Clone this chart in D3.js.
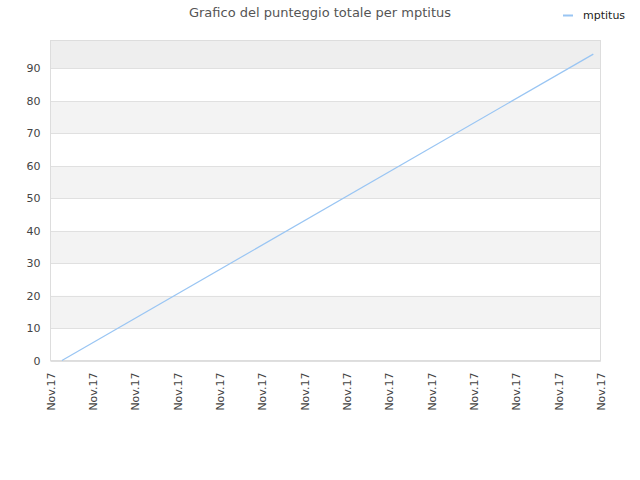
<!DOCTYPE html>
<html>
<head>
<meta charset="utf-8">
<script src="https://cdn.jsdelivr.net/npm/d3@7"></script>
<style>
  body { margin: 0; background: #fff; }
  text { font-family: "DejaVu Sans", sans-serif; }
</style>
</head>
<body>
<svg width="640" height="480"></svg>
<script>
// tick labels along the time axis (all the same day)
const tickLabels = ["Nov.17", "Nov.17", "Nov.17", "Nov.17", "Nov.17", "Nov.17", "Nov.17",
                    "Nov.17", "Nov.17", "Nov.17", "Nov.17", "Nov.17", "Nov.17", "Nov.17"];
// position of each point in tick units, and the score there
const times = [0.27, 12.83];
const scores = [0, 94.4];
const yTicks = [0, 10, 20, 30, 40, 50, 60, 70, 80, 90];
const seriesName = "mptitus";

let svg = d3.select("svg"),
  width = +svg.attr("width"),
  height = +svg.attr("height");

let plotLeft = 50.5, plotRight = 600.5, plotTop = 40.5, plotBottom = 360.5;

let x = d3.scaleLinear().domain([0, tickLabels.length - 1]).range([plotLeft, plotRight]);
let y = d3.scaleLinear().domain([0, 98.6]).range([plotBottom, plotTop]);

// title
svg.append("text")
  .attr("x", 320).attr("y", 17)
  .attr("text-anchor", "middle")
  .attr("font-size", 13)
  .attr("fill", "#555")
  .text("Grafico del punteggio totale per " + seriesName);

// alternating bands
let bandEdges = yTicks.concat([y.domain()[1]]);
let bands = svg.append("g");
for (let i = 0; i < bandEdges.length - 1; i++) {
  let fill = (i % 2 === 1) ? "#f3f3f3" : "#ffffff";
  if (i === bandEdges.length - 2) fill = "#eeeeee";
  bands.append("rect")
    .attr("x", plotLeft)
    .attr("y", y(bandEdges[i + 1]))
    .attr("width", plotRight - plotLeft)
    .attr("height", y(bandEdges[i]) - y(bandEdges[i + 1]))
    .attr("fill", fill);
}

// horizontal grid
svg.append("g")
  .selectAll("line")
  .data(yTicks)
  .enter().append("line")
  .attr("x1", plotLeft).attr("x2", plotRight)
  .attr("y1", d => Math.round(y(d)) + 0.5)
  .attr("y2", d => Math.round(y(d)) + 0.5)
  .attr("stroke", "#e0e0e0");

// frame
svg.append("rect")
  .attr("x", plotLeft).attr("y", plotTop)
  .attr("width", plotRight - plotLeft).attr("height", plotBottom - plotTop)
  .attr("fill", "none")
  .attr("stroke", "#dddddd");

// y axis
let yAxis = svg.append("g")
  .attr("transform", "translate(" + plotLeft + ",0)")
  .call(d3.axisLeft(y).tickValues(yTicks).tickSize(0).tickPadding(10));
yAxis.select(".domain").remove();
yAxis.selectAll("text").attr("font-size", 11).attr("fill", "#444")
  .attr("font-family", "DejaVu Sans, sans-serif");

// x axis
let xAxis = svg.append("g")
  .attr("transform", "translate(0," + plotBottom + ")")
  .call(d3.axisBottom(x).tickValues(d3.range(tickLabels.length))
    .tickFormat((d, i) => tickLabels[i]).tickSize(0));
xAxis.select(".domain").attr("stroke", "#dddddd");
xAxis.selectAll("text")
  .attr("font-size", 11).attr("fill", "#444")
  .attr("font-family", "DejaVu Sans, sans-serif")
  .attr("text-anchor", "end")
  .attr("transform", "translate(0,12) rotate(-90)")
  .attr("x", 0).attr("y", 0).attr("dy", "0.35em");

// series line
let points = times.map((t, i) => [t, scores[i]]);
svg.append("path")
  .datum(points)
  .attr("fill", "none")
  .attr("stroke", "#99c5f3")
  .attr("stroke-width", 1.2)
  .attr("d", d3.line().x(d => x(d[0])).y(d => y(d[1])));

// legend
svg.append("line")
  .attr("x1", 563).attr("x2", 573)
  .attr("y1", 15.5).attr("y2", 15.5)
  .attr("stroke", "#99c5f3").attr("stroke-width", 2);
svg.append("text")
  .attr("x", 583).attr("y", 19)
  .attr("font-size", 11)
  .attr("fill", "#222")
  .text(seriesName);
</script>
</body>
</html>
